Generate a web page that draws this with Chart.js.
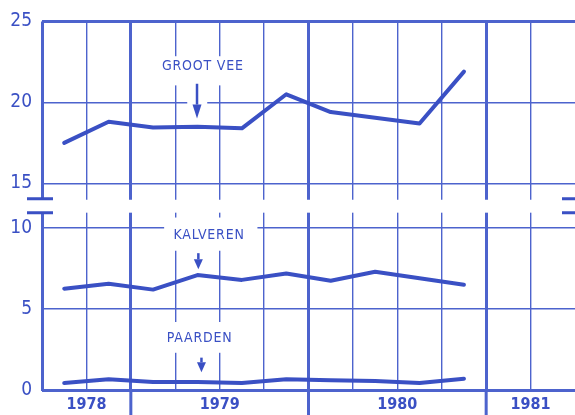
<!DOCTYPE html>
<html>
<head>
<meta charset="utf-8">
<script src="https://cdn.jsdelivr.net/npm/chart.js@4.4.1/dist/chart.umd.min.js"></script>
<style>
  html, body { margin: 0; padding: 0; background: #ffffff; }
  #wrap { width: 575px; height: 415px; }
</style>
</head>
<body>
<div id="wrap"><canvas id="veeChart"></canvas></div>
<script>
/* --------------- Data --------------------- */
// quarter midpoints, x axis runs in quarters
const quarters = [0.5, 1.5, 2.5, 3.5, 4.5, 5.5, 6.5, 7.5, 8.5, 9.5];
const grootVee = [17.5, 18.8, 18.45, 18.5, 18.4, 20.5, 19.4, 19.05, 18.7, 21.9];
const kalveren = [6.26, 6.56, 6.2, 7.1, 6.8, 7.2, 6.75, 7.3, 6.9, 6.5];
const paarden = [0.43, 0.67, 0.5, 0.5, 0.43, 0.67, 0.6, 0.55, 0.43, 0.7];

const topTicks = [15, 20, 25];
const bottomTicks = [0, 5, 10];
const yearLabels = { 1: "1978", 4: "1979", 8: "1980", 11: "1981" };
const yearLines = [2, 6, 10];

/* --------------- Styles --------------------- */
const ink = "#3a50c4";
const gridInk = "#4d63cd";
const font = "'DejaVu Sans Condensed', 'Liberation Sans Narrow', sans-serif";

const toPoints = (vals) => vals.map((v, i) => ({ x: quarters[i], y: v }));

/* --------------- Decorations: axis break, labels, arrows --------------------- */
const decorations = {
  id: "decorations",
  beforeDatasetsDraw(chart) {
    const { ctx, chartArea, scales } = chart;
    const x = scales.x, yT = scales.yTop, yB = scales.yBottom;
    const a = yT.getPixelForValue(14.05);
    const b = yB.getPixelForValue(10.95);
    const gapTop = Math.min(a, b), gapBottom = Math.max(a, b);
    ctx.save();
    // white gap of the broken axis
    ctx.fillStyle = "#ffffff";
    ctx.fillRect(chartArea.left - 2, gapTop + 1, chart.width, gapBottom - gapTop - 1);
    // break marks
    ctx.strokeStyle = ink;
    ctx.lineWidth = 3;
    ctx.beginPath();
    [gapTop, gapBottom].forEach((py) => {
      ctx.moveTo(chartArea.left - 15, py);
      ctx.lineTo(chartArea.left + 11, py);
      ctx.moveTo(chartArea.right - 13, py);
      ctx.lineTo(chartArea.right, py);
    });
    ctx.stroke();

    // year lines run on below the axis
    ctx.strokeStyle = gridInk;
    ctx.beginPath();
    yearLines.forEach((q) => {
      const px = x.getPixelForValue(q);
      ctx.moveTo(px, chartArea.bottom);
      ctx.lineTo(px, chart.height);
    });
    ctx.stroke();

    // white boxes behind labels (the grid is interrupted there)
    const clear = (scale, x0, x1, v0, v1) => {
      const l = x.getPixelForValue(x0), r = x.getPixelForValue(x1);
      const t = scale.getPixelForValue(v0), bt = scale.getPixelForValue(v1);
      ctx.fillRect(l, t, r - l, bt - t);
    };
    ctx.fillStyle = "#ffffff";
    clear(yT, 2.65, 4.6, 22.85, 21.05);
    clear(yT, 3.27, 3.72, 21.0, 19.25);
    clear(yB, 2.75, 4.85, 10.65, 8.6);
    clear(yB, 2.75, 4.2, 4.2, 2.3);

    // labels
    ctx.fillStyle = ink;
    ctx.font = "14px " + font;
    ctx.textAlign = "center";
    ctx.textBaseline = "middle";
    ctx.letterSpacing = "0.8px";
    const label = (scale, txt, xv, yv) =>
      ctx.fillText(txt, x.getPixelForValue(xv), scale.getPixelForValue(yv));
    label(yT, "GROOT VEE", 3.62, 22.2);
    label(yB, "KALVEREN", 3.76, 9.55);
    label(yB, "PAARDEN", 3.55, 3.2);

    // arrows
    const arrow = (scale, xv, v0, v1, head) => {
      const px = x.getPixelForValue(xv);
      const p0 = scale.getPixelForValue(v0), p1 = scale.getPixelForValue(v1);
      ctx.lineWidth = 2.5;
      ctx.strokeStyle = ink;
      ctx.beginPath();
      ctx.moveTo(px, p0);
      ctx.lineTo(px, p1 - head);
      ctx.stroke();
      ctx.beginPath();
      ctx.moveTo(px - 4.5, p1 - head);
      ctx.lineTo(px + 4.5, p1 - head);
      ctx.lineTo(px, p1);
      ctx.closePath();
      ctx.fill();
    };
    arrow(yT, 3.49, 21.15, 19.0, 14);
    arrow(yB, 3.52, 8.45, 7.45, 10);
    arrow(yB, 3.59, 2.0, 1.1, 10);
    ctx.restore();
  },
};

/* --------------- Chart --------------------- */
const lineSet = (data, axis) => ({
  data: toPoints(data),
  yAxisID: axis,
  borderColor: ink,
  borderWidth: 4,
  pointRadius: 0,
  tension: 0,
  borderJoinStyle: "round",
  borderCapStyle: "round",
  clip: false,
});

const tickFont = { family: font, size: 19 };

new Chart(document.getElementById("veeChart"), {
  type: "line",
  plugins: [decorations],
  data: {
    datasets: [
      lineSet(grootVee, "yTop"),
      lineSet(kalveren, "yBottom"),
      lineSet(paarden, "yBottom"),
    ],
  },
  options: {
    responsive: true,
    maintainAspectRatio: false,
    animation: false,
    layout: { padding: { top: 19, right: 0, left: 0, bottom: 0 } },
    plugins: { legend: { display: false }, tooltip: { enabled: false } },
    scales: {
      x: {
        type: "linear",
        min: 0,
        max: 12,
        afterBuildTicks: (s) => {
          s.ticks = [0, 1, 2, 3, 4, 5, 6, 7, 8, 9, 10, 11, 12].map((v) => ({ value: v }));
        },
        afterFit: (s) => { s.height = 24; s.paddingRight = 0; s.paddingLeft = 0; },
        border: { display: false },
        grid: {
          drawTicks: false,
          color: (c) => (c.tick && c.tick.value === 12 ? "transparent" : gridInk),
          lineWidth: (c) => {
            const v = c.tick ? c.tick.value : -1;
            return v === 0 || yearLines.includes(v) ? 3 : 1.4;
          },
        },
        ticks: {
          autoSkip: false,
          maxRotation: 0,
          padding: 4,
          color: ink,
          font: { family: font, size: 16, weight: "bold" },
          callback: (v) => yearLabels[v] || "",
        },
      },
      yBottom: {
        type: "linear",
        position: "left",
        stack: "vee",
        stackWeight: 1,
        min: -0.06,
        max: 11.35,
        afterBuildTicks: (s) => { s.ticks = bottomTicks.map((v) => ({ value: v })); },
        afterFit: (s) => { s.width = 42; },
        border: { display: false },
        grid: {
          drawTicks: false,
          color: gridInk,
          lineWidth: (c) => (c.tick && c.tick.value === 0 ? 3 : 1.4),
        },
        ticks: { color: ink, font: tickFont, padding: 10 },
      },
      yTop: {
        type: "linear",
        position: "left",
        stack: "vee",
        stackWeight: 1,
        min: 13.59,
        max: 25,
        afterBuildTicks: (s) => { s.ticks = topTicks.map((v) => ({ value: v })); },
        afterFit: (s) => { s.width = 42; },
        border: { display: false },
        grid: {
          drawTicks: false,
          color: gridInk,
          lineWidth: (c) => (c.tick && c.tick.value === 25 ? 3 : 1.4),
        },
        ticks: { color: ink, font: tickFont, padding: 10 },
      },
    },
  },
});
</script>
</body>
</html>
